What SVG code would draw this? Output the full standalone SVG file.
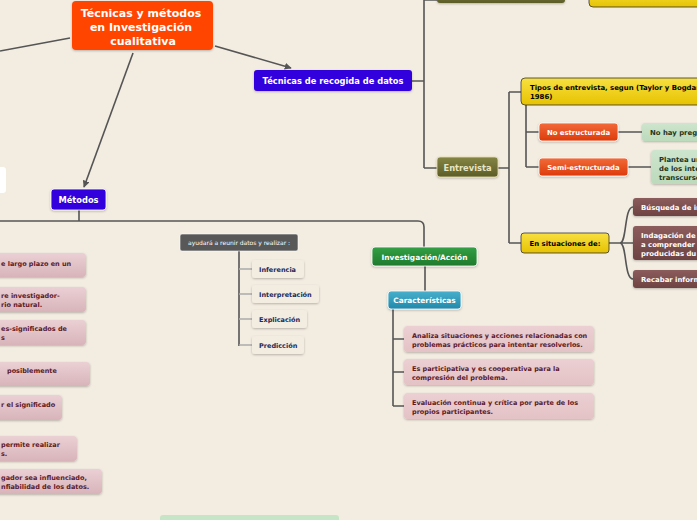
<svg xmlns="http://www.w3.org/2000/svg" width="697" height="520" viewBox="0 0 697 520">
<style>
text{font-family:"DejaVu Sans","Verdana",sans-serif;font-weight:bold}
.c{fill:none;stroke:#555;stroke-width:1.6}
.w{fill:#fff}
.t1{font-size:11px;fill:#fff}
.t2{font-size:8.3px;fill:#fff}
.t3{font-size:6.9px}
.t4{font-size:6.5px;fill:#5a1a2a}
.t5{font-size:6.5px;fill:#1a2a5a}
.pink{fill:url(#gPink)}
.lpink{fill:url(#gLPink)}
.brown{fill:url(#gBrown)}
.green{fill:url(#gGreen)}
</style>
<defs>
<marker id="arr" viewBox="0 0 10 10" refX="9" refY="5" markerWidth="7" markerHeight="7" orient="auto-start-reverse" markerUnits="userSpaceOnUse"><path d="M0,0 L10,5 L0,10 z" fill="#555"/></marker>
<filter id="sh" x="-10%" y="-20%" width="120%" height="150%"><feDropShadow dx="0" dy="1" stdDeviation="0.8" flood-color="#000" flood-opacity="0.25"/></filter>
<linearGradient id="gOrange" x1="0" y1="0" x2="0" y2="1"><stop offset="0" stop-color="#f26a3a"/><stop offset="1" stop-color="#dd3a0a"/></linearGradient>
<linearGradient id="gYellow" x1="0" y1="0" x2="0" y2="1"><stop offset="0" stop-color="#f8e040"/><stop offset="1" stop-color="#e6c200"/></linearGradient>
<linearGradient id="gOlive" x1="0" y1="0" x2="0" y2="1"><stop offset="0" stop-color="#858545"/><stop offset="1" stop-color="#5c5c28"/></linearGradient>
<linearGradient id="gBrown" x1="0" y1="0" x2="0" y2="1"><stop offset="0" stop-color="#8c5c5c"/><stop offset="1" stop-color="#6e4242"/></linearGradient>
<linearGradient id="gGreenN" x1="0" y1="0" x2="0" y2="1"><stop offset="0" stop-color="#33a044"/><stop offset="1" stop-color="#1e7a2c"/></linearGradient>
<linearGradient id="gTeal" x1="0" y1="0" x2="0" y2="1"><stop offset="0" stop-color="#48b0cc"/><stop offset="1" stop-color="#2288aa"/></linearGradient>
<linearGradient id="gPink" x1="0" y1="0" x2="0" y2="1"><stop offset="0" stop-color="#ebcfd2"/><stop offset="1" stop-color="#e4c2c6"/></linearGradient>
<linearGradient id="gLPink" x1="0" y1="0" x2="0" y2="1"><stop offset="0" stop-color="#ead0d4"/><stop offset="1" stop-color="#d8b4ba"/></linearGradient>
<linearGradient id="gGreen" x1="0" y1="0" x2="0" y2="1"><stop offset="0" stop-color="#cde5cd"/><stop offset="1" stop-color="#bcdabc"/></linearGradient>
</defs>
<rect width="697" height="520" fill="#f3ece1"/>

<g id="connectors">
<line class="c" x1="70" y1="38" x2="0" y2="51"/>
<line class="c" x1="215" y1="46" x2="291" y2="68" marker-end="url(#arr)"/>
<line class="c" x1="133" y1="53" x2="84" y2="187" marker-end="url(#arr)"/>
<path class="c" d="M412,81 H424 M424,0 V168 M424,168 H437 M424,0 H437"/>
<path class="c" d="M498,168 H509 M509,92 V243 M509,92 H521 M509,243 H521"/>
<path class="c" d="M526,105 V167 M526,132 H539 M526,167 H539"/>
<path class="c" d="M618,132 H642 M628,167 H651"/>
<path class="c" d="M609,243 H620 M620,243 C627,243 624,207 633,207 M620,243 H633 M620,243 C627,243 624,279 633,279"/>
<path class="c" d="M79,210 V221 M0,221 H418 Q424,221 424,227 V247"/>
<path class="c" d="M425,266 V291"/>
<path class="c" d="M393,309 V406 M393,339 H404 M393,372 H404 M393,406 H404"/>
<path class="c" d="M239,251 V346"/>
<path d="M239,269 H252 M239,294 H252 M239,319 H252 M239,345 H252" fill="none" stroke="#aaa" stroke-width="1.4"/>
</g>

<g id="n-central"><rect x="72" y="1" width="141" height="49" rx="4" fill="#ff4500" filter="url(#sh)"/>
<text class="t1" text-anchor="middle" x="141" y="17">Técnicas y métodos</text>
<text class="t1" text-anchor="middle" x="141" y="31">en Investigación</text>
<text class="t1" text-anchor="middle" x="143" y="45">cualitativa</text></g>

<g id="n-recogida"><rect x="254" y="70" width="158" height="21" rx="3" fill="#3300dd" filter="url(#sh)"/>
<text class="t2" text-anchor="middle" x="333" y="84">Técnicas de recogida de datos</text></g>

<g id="n-olive-top"><rect x="437" y="-10" width="128" height="13" rx="3" fill="url(#gOlive)" filter="url(#sh)"/></g>
<g id="n-yellow-top"><rect x="589" y="-10" width="120" height="17" rx="4" fill="url(#gYellow)" stroke="#333" stroke-width="0.8"/></g>

<g id="n-entrevista"><rect x="437" y="157" width="61" height="20" rx="3" fill="url(#gOlive)" stroke="#e8e0b0" stroke-width="0.8" filter="url(#sh)"/>
<text x="467.5" y="171" text-anchor="middle" style="font-size:8.3px;fill:#e8e4c4">Entrevista</text></g>

<g id="n-tipos"><rect x="521" y="78" width="190" height="27" rx="4" fill="url(#gYellow)" stroke="#333" stroke-width="0.8"/>
<text class="t3" x="530" y="90">Tipos de entrevista, segun (Taylor y Bogdan,</text>
<text class="t3" x="530" y="99">1986)</text></g>

<g id="n-noestr"><rect x="539" y="123" width="79" height="18" rx="3" fill="url(#gOrange)" stroke="#fff" stroke-width="0.8" filter="url(#sh)"/>
<text class="t3 w" text-anchor="middle" x="578.5" y="135">No estructurada</text></g>
<g id="n-nohay"><rect x="642" y="123" width="70" height="18" rx="3" class="green" filter="url(#sh)"/>
<text class="t3" x="650" y="135" fill="#223322">No hay pregu</text></g>

<g id="n-semi"><rect x="539" y="158" width="89" height="18" rx="3" fill="url(#gOrange)" stroke="#fff" stroke-width="0.8" filter="url(#sh)"/>
<text class="t3 w" text-anchor="middle" x="583.5" y="170">Semi-estructurada</text></g>
<g id="n-plantea"><rect x="651" y="150" width="60" height="34" rx="4" class="green" filter="url(#sh)"/>
<text class="t3" x="659" y="162" fill="#223322">Plantea un</text>
<text class="t3" x="659" y="171" fill="#223322">de los inter</text>
<text class="t3" x="659" y="180" fill="#223322">transcurso</text></g>

<g id="n-situaciones"><rect x="521" y="233" width="88" height="20" rx="3" fill="url(#gYellow)" stroke="#333" stroke-width="0.8"/>
<text class="t3" text-anchor="middle" x="565" y="246">En situaciones de:</text></g>

<g id="n-busqueda"><rect x="633" y="198" width="75" height="18" rx="3" class="brown" filter="url(#sh)"/>
<text class="t3 w" x="641" y="210">Búsqueda de in</text></g>
<g id="n-indagacion"><rect x="633" y="226" width="75" height="34" rx="3" class="brown" filter="url(#sh)"/>
<text class="t3 w" x="641" y="238">Indagación de</text>
<text class="t3 w" x="641" y="247">a comprender</text>
<text class="t3 w" x="641" y="256">producidas du</text></g>
<g id="n-recabar"><rect x="633" y="270" width="75" height="18" rx="3" class="brown" filter="url(#sh)"/>
<text class="t3 w" x="641" y="282">Recabar inform</text></g>

<g id="n-metodos"><rect x="51" y="189" width="55" height="21" rx="3" fill="#3300dd" stroke="#fff" stroke-width="0.8" filter="url(#sh)"/>
<text class="t2" text-anchor="middle" x="78.5" y="203">Métodos</text></g>

<g id="n-white-left"><rect x="-6" y="167" width="12" height="26" rx="3" fill="#fff"/></g>

<g id="n-inv"><rect x="372" y="247" width="105" height="19" rx="3" fill="url(#gGreenN)" stroke="#fff" stroke-width="0.8" filter="url(#sh)"/>
<text class="w" text-anchor="middle" x="424.5" y="260" style="font-size:7.4px">Investigación/Acción</text></g>

<g id="n-caract"><rect x="388" y="291" width="73" height="18" rx="3" fill="url(#gTeal)" stroke="#fff" stroke-width="0.8" filter="url(#sh)"/>
<text class="w" text-anchor="middle" x="424.5" y="303" style="font-size:7.4px">Características</text></g>

<g id="n-c1"><rect x="404" y="326" width="190" height="26" rx="4" class="pink" filter="url(#sh)"/>
<text class="t4" x="412" y="338">Analiza situaciones y acciones relacionadas con</text>
<text class="t4" x="412" y="347">problemas prácticos para intentar resolverlos.</text></g>
<g id="n-c2"><rect x="404" y="359" width="190" height="26" rx="4" class="pink" filter="url(#sh)"/>
<text class="t4" x="412" y="371">Es participativa y es cooperativa para la</text>
<text class="t4" x="412" y="380">compresión del problema.</text></g>
<g id="n-c3"><rect x="404" y="393" width="190" height="26" rx="4" class="pink" filter="url(#sh)"/>
<text class="t4" x="412" y="405">Evaluación continua y crítica por parte de los</text>
<text class="t4" x="412" y="414">propios participantes.</text></g>

<g id="n-ayudara"><rect x="180" y="234" width="118" height="17" rx="2" fill="#585858" stroke="#fff" stroke-width="0.6"/>
<text x="239" y="245" text-anchor="middle" style="font-weight:normal;font-size:6px;fill:#fff">ayudará a reunir datos y realizar :</text></g>
<g id="n-inferencia"><rect x="252" y="260" width="52" height="18" rx="3" fill="#f3ece1" filter="url(#sh)"/>
<text class="t5" x="259" y="272">Inferencia</text></g>
<g id="n-interpretacion"><rect x="252" y="285" width="67" height="18" rx="3" fill="#f3ece1" filter="url(#sh)"/>
<text class="t5" x="259" y="297">Interpretación</text></g>
<g id="n-explicacion"><rect x="252" y="310" width="55" height="18" rx="3" fill="#f3ece1" filter="url(#sh)"/>
<text class="t5" x="259" y="322">Explicación</text></g>
<g id="n-prediccion"><rect x="252" y="336" width="52" height="18" rx="3" fill="#f3ece1" filter="url(#sh)"/>
<text class="t5" x="259" y="348">Predicción</text></g>

<g id="n-l1"><rect x="-20" y="253" width="106" height="24" rx="4" class="lpink" filter="url(#sh)"/>
<text class="t4" x="1" y="266">e largo plazo en un</text></g>
<g id="n-l2"><rect x="-20" y="287" width="106" height="25" rx="4" class="lpink" filter="url(#sh)"/>
<text class="t4" x="1" y="298">re investigador-</text>
<text class="t4" x="1" y="307">rio natural.</text></g>
<g id="n-l3"><rect x="-20" y="320" width="106" height="25" rx="4" class="lpink" filter="url(#sh)"/>
<text class="t4" x="1" y="331">es-significados de</text>
<text class="t4" x="1" y="340">s</text></g>
<g id="n-l4"><rect x="-20" y="362" width="110" height="24" rx="4" class="lpink" filter="url(#sh)"/>
<text class="t4" x="7" y="373">posiblemente</text></g>
<g id="n-l5"><rect x="-20" y="395" width="82" height="25" rx="4" class="lpink" filter="url(#sh)"/>
<text class="t4" x="1" y="407">r el significado</text></g>
<g id="n-l6"><rect x="-20" y="436" width="97" height="25" rx="4" class="lpink" filter="url(#sh)"/>
<text class="t4" x="1" y="447">permite realizar</text>
<text class="t4" x="1" y="456">s.</text></g>
<g id="n-l7"><rect x="-20" y="469" width="122" height="25" rx="4" class="lpink" filter="url(#sh)"/>
<text class="t4" x="1" y="480">gador sea influenciado,</text>
<text class="t4" x="1" y="489">nfiabilidad de los datos.</text></g>

<g id="n-bottom"><rect x="160" y="515" width="179" height="12" rx="3" fill="#c6e4c6"/></g>
</svg>
